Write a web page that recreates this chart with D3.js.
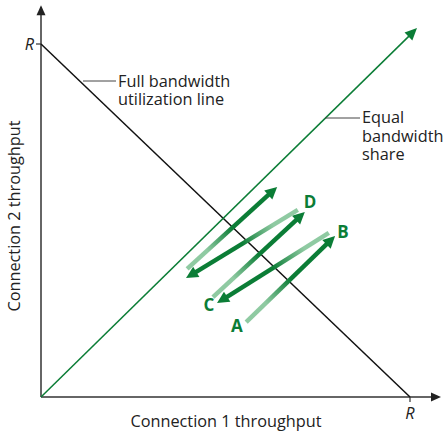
<!DOCTYPE html>
<html>
<head>
<meta charset="utf-8">
<script src="https://cdn.jsdelivr.net/npm/d3@7"></script>
<style>
  body { margin: 0; background: #fff; }
  text { font-family: "Open Sans", "Noto Sans", sans-serif; fill: #222; }
</style>
</head>
<body>
<svg id="chart" width="444" height="432"></svg>
<script>
// throughput in units of R
var fullLine = [[0, 1], [1, 0]];
var equalLine = [[0, 0], [1.019, 1.045]];
var axisEnd = {x: 1.084, y: 1.11};

// the AIMD zig-zag: each step starts light and ends with an arrow
var steps = [
  [[0.556, 0.212], [0.797, 0.456]],
  [[0.780, 0.465], [0.477, 0.266]],
  [[0.466, 0.283], [0.715, 0.524]],
  [[0.696, 0.530], [0.393, 0.337]],
  [[0.396, 0.363], [0.640, 0.595]]
];
var pointNames = ["A", "B", "C", "D"];
var pointSpots = [[0.531, 0.201], [0.818, 0.468], [0.455, 0.261], [0.729, 0.552]];

var fullLabel = ["Full bandwidth", "utilization line"];
var equalLabel = ["Equal", "bandwidth", "share"];

var dark = "#0b7d36", light = "#8fcaa2";
var fs = "16.3px";

var svg = d3.select("#chart");
var x = d3.scaleLinear().domain([0, 1]).range([41, 410]);
var y = d3.scaleLinear().domain([0, 1]).range([397, 44]);

// axes with arrow heads
svg.append("line")
    .attr("x1", x(0)).attr("y1", y(0)).attr("x2", x(axisEnd.x) - 8).attr("y2", y(0))
    .attr("stroke", "#333").attr("stroke-width", 1.5);
svg.append("path")
    .attr("d", "M" + x(axisEnd.x) + "," + y(0) + "l-10,-4.5v9z").attr("fill", "#222");
svg.append("line")
    .attr("x1", x(0)).attr("y1", y(0)).attr("x2", x(0)).attr("y2", y(axisEnd.y) + 8)
    .attr("stroke", "#333").attr("stroke-width", 1.5);
svg.append("path")
    .attr("d", "M" + x(0) + "," + y(axisEnd.y) + "l-4.5,10h9z").attr("fill", "#222");

// R ticks
svg.append("line").attr("x1", x(0) - 5).attr("x2", x(0)).attr("y1", y(1)).attr("y2", y(1))
    .attr("stroke", "#333").attr("stroke-width", 1.2);
svg.append("line").attr("x1", x(1)).attr("x2", x(1)).attr("y1", y(0)).attr("y2", y(0) + 5)
    .attr("stroke", "#333").attr("stroke-width", 1.2);
svg.append("text").attr("x", x(0) - 7).attr("y", y(1) + 6).attr("text-anchor", "end")
    .style("font-size", fs).style("font-style", "italic").text("R");
svg.append("text").attr("x", x(1)).attr("y", y(0) + 22).attr("text-anchor", "middle")
    .style("font-size", fs).style("font-style", "italic").text("R");

// axis titles
svg.append("text").attr("x", 226).attr("y", 427).attr("text-anchor", "middle")
    .style("font-size", fs).text("Connection 1 throughput");
svg.append("text").attr("transform", "translate(20,216) rotate(-90)").attr("text-anchor", "middle")
    .style("font-size", fs).text("Connection 2 throughput");

// full utilization and equal share lines
svg.append("line")
    .attr("x1", x(fullLine[0][0])).attr("y1", y(fullLine[0][1]))
    .attr("x2", x(fullLine[1][0])).attr("y2", y(fullLine[1][1]))
    .attr("stroke", "#111").attr("stroke-width", 1.5);
svg.append("line")
    .attr("x1", x(equalLine[0][0])).attr("y1", y(equalLine[0][1]))
    .attr("x2", x(equalLine[1][0]) - 6).attr("y2", y(equalLine[1][1]) + 6)
    .attr("stroke", dark).attr("stroke-width", 1.5);
var ex = x(equalLine[1][0]), ey = y(equalLine[1][1]);
var ea = Math.atan2(ey - y(0), ex - x(0));
svg.append("path")
    .attr("d", arrowHead(ex, ey, ea, 12, 5.5)).attr("fill", dark);

// leader lines and labels
svg.append("line").attr("x1", 83).attr("x2", 116).attr("y1", 81).attr("y2", 81)
    .attr("stroke", "#444").attr("stroke-width", 1);
svg.selectAll(".fullLab").data(fullLabel).enter().append("text")
    .attr("x", 118).attr("y", function(d, i) { return 87 + i * 18; })
    .style("font-size", fs).text(function(d) { return d; });

svg.append("line").attr("x1", 325).attr("x2", 360).attr("y1", 118).attr("y2", 118)
    .attr("stroke", "#444").attr("stroke-width", 1);
svg.selectAll(".eqLab").data(equalLabel).enter().append("text")
    .attr("x", 362).attr("y", function(d, i) { return 123 + i * 18.5; })
    .style("font-size", fs).text(function(d) { return d; });

// gradient steps
var defs = svg.append("defs");
steps.forEach(function(s, i) {
    var x1 = x(s[0][0]), y1 = y(s[0][1]), x2 = x(s[1][0]), y2 = y(s[1][1]);
    var a = Math.atan2(y2 - y1, x2 - x1);
    var headLen = 12;
    var g = defs.append("linearGradient").attr("id", "step" + i)
        .attr("gradientUnits", "userSpaceOnUse")
        .attr("x1", x1).attr("y1", y1).attr("x2", x2).attr("y2", y2);
    g.append("stop").attr("offset", "0").attr("stop-color", light);
    g.append("stop").attr("offset", "0.22").attr("stop-color", light);
    g.append("stop").attr("offset", "0.5").attr("stop-color", dark);
    g.append("stop").attr("offset", "1").attr("stop-color", dark);
    svg.append("line")
        .attr("x1", x1).attr("y1", y1)
        .attr("x2", x2 - (headLen - 2) * Math.cos(a)).attr("y2", y2 - (headLen - 2) * Math.sin(a))
        .attr("stroke", "url(#step" + i + ")").attr("stroke-width", 4.5);
    svg.append("path").attr("d", arrowHead(x2, y2, a, headLen, 6)).attr("fill", dark);
});

// point letters
svg.selectAll(".pt").data(pointNames).enter().append("text")
    .attr("x", function(d, i) { return x(pointSpots[i][0]); })
    .attr("y", function(d, i) { return y(pointSpots[i][1]) + 6; })
    .attr("text-anchor", "middle")
    .style("font-size", "17px").style("font-weight", "bold").style("fill", dark)
    .text(function(d) { return d; });

function arrowHead(tx, ty, a, len, half) {
    var bx = tx - len * Math.cos(a), by = ty - len * Math.sin(a);
    var px = -Math.sin(a) * half, py = Math.cos(a) * half;
    return "M" + tx + "," + ty + "L" + (bx + px) + "," + (by + py) + "L" + (bx - px) + "," + (by - py) + "Z";
}
</script>
</body>
</html>
